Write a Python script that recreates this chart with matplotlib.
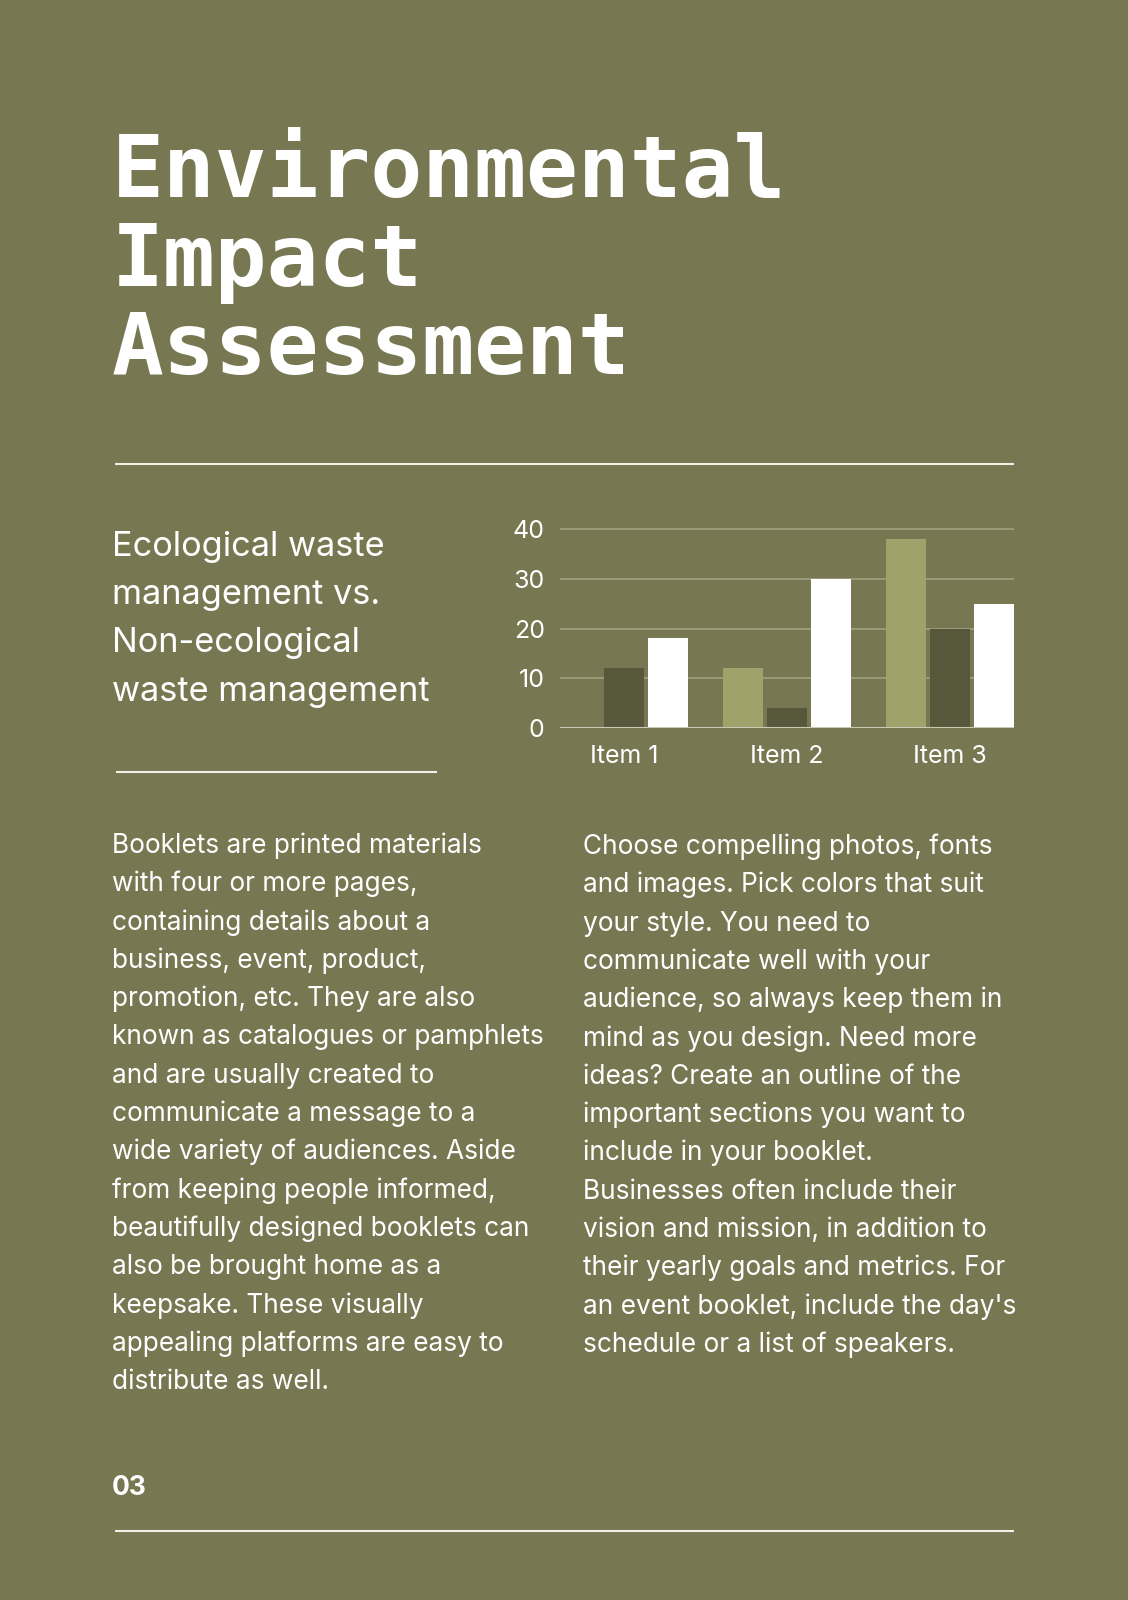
import numpy as np
import matplotlib
matplotlib.use("Agg")
import matplotlib.pyplot as plt

# chart data
categories = ["Item 1", "Item 2", "Item 3"]
series_light = [0, 12, 38]
series_dark = [12, 4, 20]
series_white = [18, 30, 25]
y_ticks = [0, 10, 20, 30, 40]

# page text
title_lines = ["Environmental", "Impact", "Assessment"]
subtitle_lines = ["Ecological waste", "management vs.", "Non-ecological", "waste management"]
left_lines = [
    "Booklets are printed materials",
    "with four or more pages,",
    "containing details about a",
    "business, event, product,",
    "promotion, etc. They are also",
    "known as catalogues or pamphlets",
    "and are usually created to",
    "communicate a message to a",
    "wide variety of audiences. Aside",
    "from keeping people informed,",
    "beautifully designed booklets can",
    "also be brought home as a",
    "keepsake. These visually",
    "appealing platforms are easy to",
    "distribute as well.",
]
right_lines = [
    "Choose compelling photos, fonts",
    "and images. Pick colors that suit",
    "your style. You need to",
    "communicate well with your",
    "audience, so always keep them in",
    "mind as you design. Need more",
    "ideas? Create an outline of the",
    "important sections you want to",
    "include in your booklet.",
    "Businesses often include their",
    "vision and mission, in addition to",
    "their yearly goals and metrics. For",
    "an event booklet, include the day's",
    "schedule or a list of speakers.",
]
page_number = "03"

BG = "#777852"
LIGHT = "#a0a26c"
DARK = "#56573b"
WHITE = "#ffffff"
RULE = "#f2f1e8"
GRID = "#9c9d7c"
SANS = ["Inter", "DejaVu Sans"]
MONO = ["DejaVu Sans Mono"]

W, H = 1128, 1600
fig = plt.figure(figsize=(W / 100, H / 100), dpi=100, facecolor=BG)

# overlay in pixel coordinates for text and rules
page = fig.add_axes([0, 0, 1, 1])
page.set_xlim(0, W)
page.set_ylim(H, 0)
page.axis("off")

for i, line in enumerate(title_lines):
    page.text(112, 197 + i * 88.5, line, color=WHITE, fontsize=62,
              fontweight="bold", family=MONO, va="baseline", ha="left")

page.plot([115, 1014], [464, 464], color=RULE, lw=1.5, solid_capstyle="butt")

for i, line in enumerate(subtitle_lines):
    page.text(112, 556 + i * 48.2, line, color=WHITE, fontsize=24.7,
              family=SANS, va="baseline", ha="left")

page.plot([116, 437], [772, 772], color=RULE, lw=1.5, solid_capstyle="butt")

for i, line in enumerate(left_lines):
    page.text(112, 853 + i * 38.3, line, color=WHITE, fontsize=18.9,
              family=SANS, va="baseline", ha="left")

for i, line in enumerate(right_lines):
    page.text(583, 854 + i * 38.3, line, color=WHITE, fontsize=18.9,
              family=SANS, va="baseline", ha="left")

page.text(112, 1495, page_number, color=WHITE, fontsize=19, fontweight="bold",
          family=SANS, va="baseline", ha="left")
page.plot([115, 1014], [1531, 1531], color=RULE, lw=1.5, solid_capstyle="butt")

# bar chart
y_top = 41
left_px, right_px, bottom_px = 560, 1014, 728
top_px = bottom_px - y_top * (199 / 40)
ax = fig.add_axes([left_px / W, 1 - bottom_px / H,
                   (right_px - left_px) / W, (bottom_px - top_px) / H])
ax.set_facecolor("none")

x = np.arange(len(categories))
step, width = 0.27, 0.248
ax.bar(x - step, series_light, width, color=LIGHT, zorder=3)
ax.bar(x, series_dark, width, color=DARK, zorder=3)
ax.bar(x + step, series_white, width, color=WHITE, zorder=3)

ax.set_xlim(-step - width / 2, len(categories) - 1 + step + width / 2)
ax.set_ylim(0, y_top)
ax.set_yticks(y_ticks)
ax.set_xticks(x)
ax.set_xticklabels(categories)

for t in y_ticks[1:]:
    ax.axhline(t, color=GRID, lw=1.3, zorder=1)
ax.axhline(0, color="#c9cab4", lw=1.5, zorder=4)

for s in ax.spines.values():
    s.set_visible(False)
ax.tick_params(axis="both", length=0, colors=WHITE, labelsize=18)
ax.tick_params(axis="y", pad=11)
ax.tick_params(axis="x", pad=12)
for lbl in ax.get_xticklabels() + ax.get_yticklabels():
    lbl.set_family(SANS)

fig.savefig("out.png", dpi=100, facecolor=BG)
